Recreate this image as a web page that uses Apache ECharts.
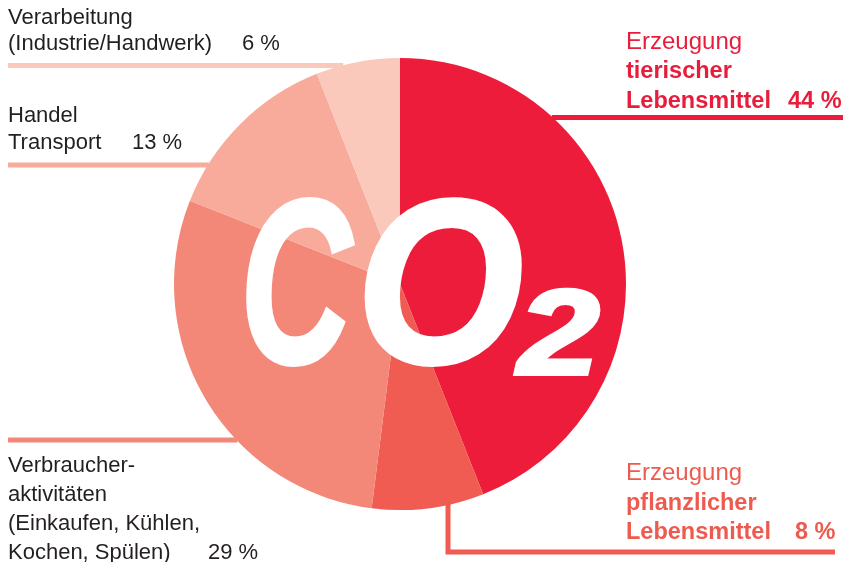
<!DOCTYPE html>
<html><head><meta charset="utf-8">
<script src="https://cdn.jsdelivr.net/npm/echarts@6/dist/echarts.min.js"></script>
<style>html,body{margin:0;padding:0;background:#fff}#c{width:847px;height:562px}</style>
</head><body><div id="c"></div>
<script>
// ---- data ----
const categories = [
  'Erzeugung tierischer Lebensmittel',
  'Erzeugung pflanzlicher Lebensmittel',
  'Verbraucheraktivitäten (Einkaufen, Kühlen, Kochen, Spülen)',
  'Handel Transport',
  'Verarbeitung (Industrie/Handwerk)'
];
const values = [44, 8, 29, 13, 6];
const labelTexts = [
  ['Erzeugung', 'tierischer', 'Lebensmittel'],
  ['Erzeugung', 'pflanzlicher', 'Lebensmittel'],
  ['Verbraucher-', 'aktivitäten', '(Einkaufen, Kühlen,', 'Kochen, Spülen)'],
  ['Handel', 'Transport'],
  ['Verarbeitung', '(Industrie/Handwerk)']
];

// ---- styles / layout ----
const sliceColors = ['#ec1c3a', '#f05b52', '#f38778', '#f8aa9b', '#fac9bc'];
const CX = 400, CY = 284, R = 226;
const FONT = '"Liberation Sans", Arial, Helvetica, sans-serif';
const labelCfg = [
  {x: 626, top: 27.4, lh: 29.5, fs: 24, bfs: 23.5, color: '#e81d3b', boldFrom: 1, pctX: 788},
  {x: 626, top: 459, lh: 29.5, fs: 24, bfs: 23.5, color: '#ef5a4f', boldFrom: 1, pctX: 795},
  {x: 8, top: 451, lh: 29, fs: 22, color: '#231f20', boldFrom: 99, pctX: 208},
  {x: 8, top: 102, lh: 27, fs: 22, color: '#231f20', boldFrom: 99, pctX: 132},
  {x: 8, top: 5, lh: 26, fs: 22, color: '#231f20', boldFrom: 99, pctX: 242}
];
function edgeX(y, side) { const dy = y - CY; return CX + side * Math.sqrt(R * R - dy * dy); }
function edgeY(x, side) { const dx = x - CX; return CY + side * Math.sqrt(R * R - dx * dx); }
const leaders = [
  () => [[edgeX(117.5, 1) - 1, 117.5], [843, 117.5]],
  () => [[448, edgeY(448, 1) - 1], [448, 552], [835, 552]],
  () => [[8, 440], [edgeX(440, -1) + 1, 440]],
  () => [[8, 165], [edgeX(165, -1) + 1, 165]],
  () => [[8, 65.5], [edgeX(65.5, -1) + 1, 65.5]]
];

const rich = {};
labelCfg.forEach((c, i) => {
  const bfs = c.bfs || c.fs;
  rich['r' + i] = {fontFamily: FONT, fontSize: c.fs, lineHeight: c.lh, color: c.color};
  rich['b' + i] = {fontFamily: FONT, fontSize: bfs, fontWeight: 'bold', lineHeight: c.lh, color: c.color};
  const lastBold = (labelTexts[i].length - 1) >= c.boldFrom;
  rich['n' + i] = Object.assign({}, lastBold ? rich['b' + i] : rich['r' + i], {width: c.pctX - c.x});
  rich['p' + i] = Object.assign({}, lastBold ? rich['b' + i] : rich['r' + i]);
});

const BIG = 'italic bold 234px "Liberation Sans", Arial, sans-serif';
const chart = echarts.init(document.getElementById('c'), null, {renderer: 'canvas'});
chart.setOption({
  animation: false,
  backgroundColor: '#fff',
  series: [{
    type: 'pie',
    center: [CX, CY],
    radius: R,
    startAngle: 90,
    clockwise: true,
    avoidLabelOverlap: false,
    silent: true,
    itemStyle: {borderWidth: 0},
    label: {
      show: true,
      position: 'outside',
      formatter: p => {
        const i = p.dataIndex, c = labelCfg[i], lines = labelTexts[i];
        return lines.map((t, k) => {
          if (k === lines.length - 1) return '{n' + i + '|' + t + '}{p' + i + '|' + p.value + ' %}';
          return '{' + (k >= c.boldFrom ? 'b' : 'r') + i + '|' + t + '}';
        }).join('\n');
      },
      rich: rich
    },
    labelLine: {show: true, lineStyle: {width: 5, cap: 'butt', join: 'miter'}},
    labelLayout: p => {
      const c = labelCfg[p.dataIndex];
      return {x: c.x, y: c.top, align: 'left', verticalAlign: 'top', labelLinePoints: leaders[p.dataIndex]()};
    },
    data: categories.map((name, i) => ({
      name: name,
      value: values[i],
      itemStyle: {color: sliceColors[i]},
      labelLine: {lineStyle: {color: sliceColors[i]}}
    }))
  }],
  graphic: [
    {type: 'text', x: 240, y: 298, scaleX: 0.66, z: 100, silent: true,
     style: {text: 'C', font: BIG, fill: '#fff', stroke: '#fff', lineWidth: 4, textAlign: 'left', textVerticalAlign: 'middle'}},
    {type: 'text', x: 356, y: 298, scaleX: 0.92, z: 100, silent: true,
     style: {text: 'O', font: BIG, fill: '#fff', stroke: '#fff', lineWidth: 4, textAlign: 'left', textVerticalAlign: 'middle'}},
    {type: 'text', x: 518, y: 341, scaleX: 1.22, z: 100, silent: true,
     style: {text: '2', font: 'italic bold 120px "Liberation Sans", Arial, sans-serif', fill: '#fff', stroke: '#fff', lineWidth: 4, textAlign: 'left', textVerticalAlign: 'middle'}}
  ]
});
</script>
</body></html>
